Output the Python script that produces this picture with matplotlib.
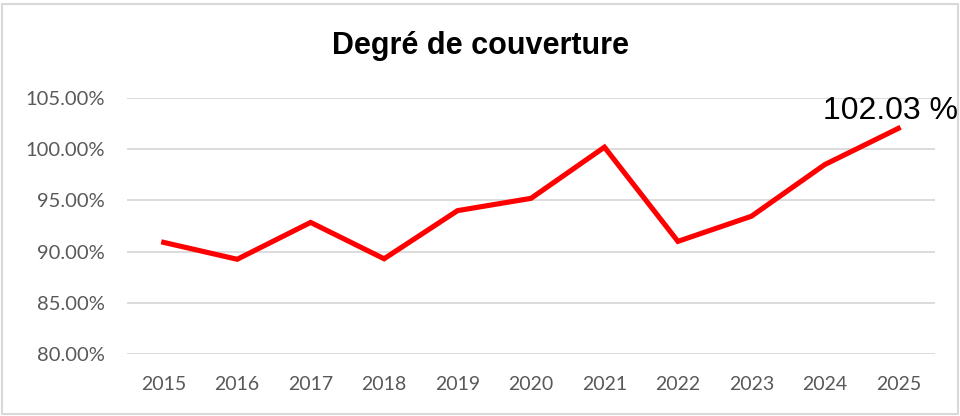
import matplotlib.pyplot as plt
from matplotlib.patches import Rectangle
from matplotlib.ticker import FuncFormatter

years = ["2015", "2016", "2017", "2018", "2019", "2020", "2021", "2022", "2023", "2024", "2025"]
couverture = [90.9, 89.25, 92.85, 89.3, 94.0, 95.2, 100.2, 91.0, 93.45, 98.5, 102.03]
y_ticks = [80, 85, 90, 95, 100, 105]

fig = plt.figure(figsize=(9.6, 4.16), dpi=100)
ax = fig.add_axes([127/960, 1 - 354/416, 808/960, 256/416])

x = list(range(len(years)))
ax.plot(x, couverture, color="#FF0000", linewidth=3.7, solid_joinstyle="miter", zorder=3)

ax.set_xlim(-0.5, len(years) - 0.5)
ax.set_ylim(80, 105)
ax.set_yticks(y_ticks)
ax.yaxis.set_major_formatter(FuncFormatter(lambda v, p: "%.2f%%" % v))
ax.set_xticks(x)
ax.set_xticklabels(years)
ax.grid(True, axis="y", color="#D9D9D9", linewidth=1.3)
ax.set_axisbelow(True)
for s in ax.spines.values():
    s.set_visible(False)
ax.tick_params(length=0, labelsize=14, labelcolor="#595959", pad=16)
for lab in ax.get_yticklabels():
    lab.set_family("Lato")
    lab.set_fontsize(14.5)
for lab in ax.get_xticklabels():
    lab.set_family("Lato")

# valeur finale
ax.annotate("%.2f %%" % couverture[-1], (x[-1], couverture[-1]),
            xytext=(-8, 2), textcoords="offset pixels",
            ha="center", va="bottom", fontsize=23,
            family=["Liberation Sans Narrow", "Liberation Sans", "DejaVu Sans"], color="black")

fig.text(0.5, 1 - 46/416, "Degré de couverture", ha="center", va="center",
         fontsize=22, fontweight="bold",
         family=["Liberation Sans Narrow", "Liberation Sans", "DejaVu Sans"])

# cadre du graphique
fig.patches.append(Rectangle((2/960, 2/416), 956/960, 410/416, transform=fig.transFigure,
                             fill=False, edgecolor="#D9D9D9", linewidth=1.5))

fig.savefig("out.png", dpi=100)
